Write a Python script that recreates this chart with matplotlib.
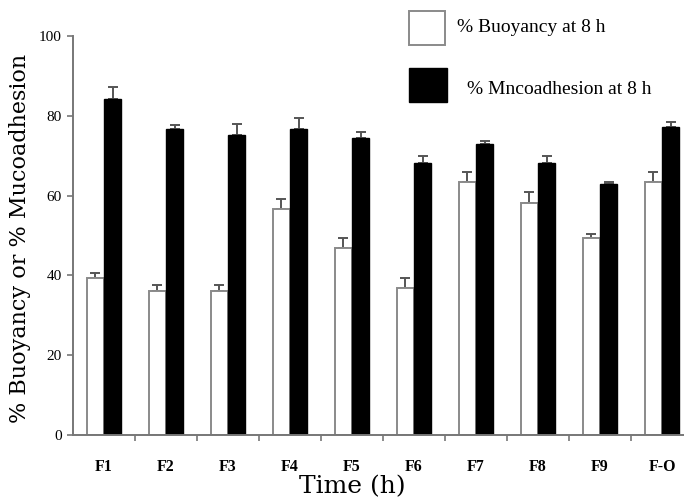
import matplotlib
matplotlib.use("Agg")
import matplotlib.pyplot as plt
import numpy as np

formulations = ["F1", "F2", "F3", "F4", "F5", "F6", "F7", "F8", "F9", "F-O"]
buoyancy = [39.3, 36.2, 36.2, 56.6, 46.9, 36.8, 63.5, 58.1, 49.3, 63.5]
buoyancy_err = [1.2, 1.4, 1.4, 2.5, 2.4, 2.6, 2.5, 2.9, 1.1, 2.5]
mucoadhesion = [84.1, 76.6, 75.2, 76.6, 74.4, 68.1, 72.9, 68.1, 62.8, 77.3]
mucoadhesion_err = [3.2, 1.1, 2.7, 2.9, 1.6, 1.9, 0.9, 1.9, 0.7, 1.1]
yticks = [0, 20, 40, 60, 80, 100]

serif = ["Liberation Serif", "DejaVu Serif"]
wide_serif = ["DejaVu Serif"]

fig = plt.figure(figsize=(6.84, 4.99), dpi=100)
ax = fig.add_axes([0.1067, 0.128, 0.8933, 0.80])

x = np.arange(1, len(formulations) + 1)
w = 0.28
ax.bar(x - w / 2, buoyancy, width=w, color="white", edgecolor="#8a8a8a",
       linewidth=1.4, zorder=2)
ax.bar(x + w / 2, mucoadhesion, width=w, color="black", edgecolor="black",
       linewidth=1.0, zorder=2)

ax.errorbar(x - w / 2, buoyancy, yerr=[np.zeros(len(x)), buoyancy_err],
            fmt="none", ecolor="#555555", elinewidth=1.4, capsize=3.5,
            capthick=1.4, zorder=1)
ax.errorbar(x + w / 2, mucoadhesion, yerr=[np.zeros(len(x)), mucoadhesion_err],
            fmt="none", ecolor="#555555", elinewidth=1.4, capsize=3.5,
            capthick=1.4, zorder=1)

ax.set_ylim(0, 100)
ax.set_xlim(0.5, 10.355)
ax.set_yticks(yticks)
ax.set_yticklabels([str(t) for t in yticks], family=serif, fontsize=11)

# group labels centred, tick marks between the groups
ax.set_xticks(x)
ax.set_xticklabels(formulations, family=serif, fontsize=11.5, fontweight="bold")
ax.tick_params(axis="x", length=0, pad=17)
ax.set_xticks(np.arange(1.5, 10.5, 1.0), minor=True)
ax.tick_params(axis="x", which="minor", length=4, color="#777777", width=1.2)
ax.tick_params(axis="y", length=4, color="#777777", width=1.2, pad=4)

for side in ["top", "right"]:
    ax.spines[side].set_visible(False)
for side in ["left", "bottom"]:
    ax.spines[side].set_color("#777777")
    ax.spines[side].set_linewidth(1.4)

fig.text(20 / 684, 1 - 238 / 499, "% Buoyancy or % Mucoadhesion",
         family=wide_serif, fontsize=16, rotation=90, ha="center", va="center")
fig.text(352 / 684, 1 - 487 / 499, "Time (h)", family=wide_serif,
         fontsize=18, ha="center", va="center")

# legend boxes with labels
fig.patches.append(plt.Rectangle((409 / 684, 1 - 45 / 499), 36 / 684, 34 / 499,
                                 transform=fig.transFigure, facecolor="white",
                                 edgecolor="#8a8a8a", linewidth=1.4))
fig.patches.append(plt.Rectangle((409 / 684, 1 - 102 / 499), 38 / 684, 34 / 499,
                                 transform=fig.transFigure, facecolor="black",
                                 edgecolor="black", linewidth=1.0))
fig.text(457 / 684, 1 - 27 / 499, "% Buoyancy at 8 h", family=serif,
         fontsize=14, va="center", ha="left")
fig.text(467 / 684, 1 - 90 / 499, "% Mncoadhesion at 8 h", family=serif,
         fontsize=14, va="center", ha="left")

fig.savefig("out.png", dpi=100)
